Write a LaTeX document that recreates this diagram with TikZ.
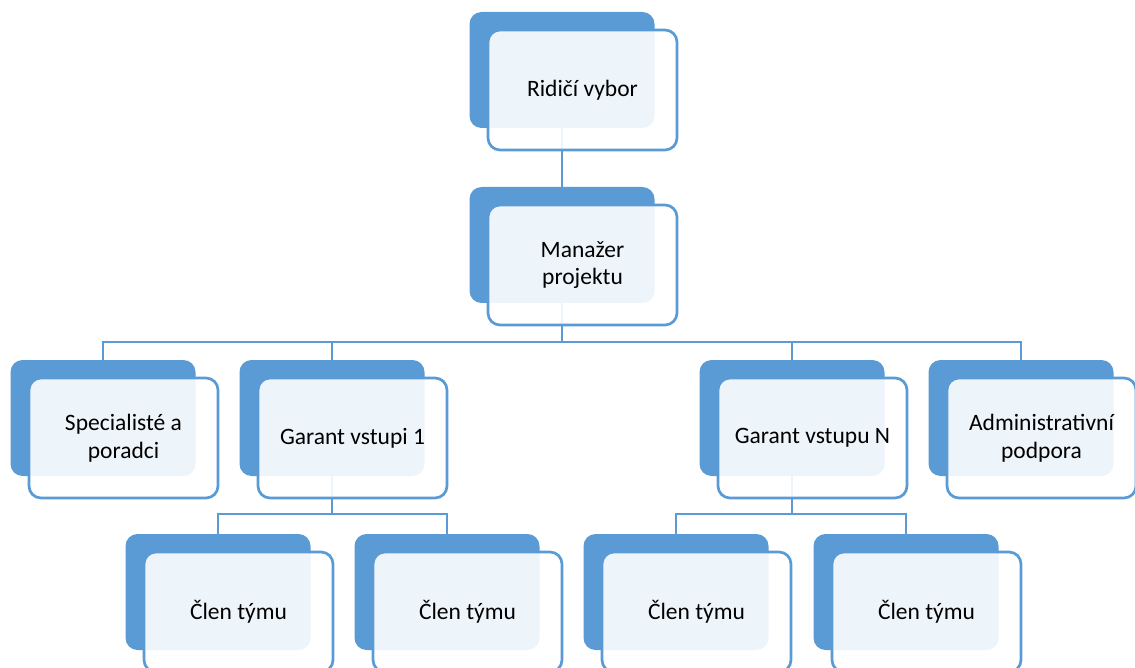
\documentclass[tikz,border=0pt]{standalone}
\usepackage{fontspec}
\setmainfont{Carlito}
\usetikzlibrary{calc}
\definecolor{sblue}{HTML}{5B9BD5}
\begin{document}
\begin{tikzpicture}[x=1pt,y=-1pt,
  darkbox/.style={draw=none,fill=sblue,rounded corners=12pt,minimum width=185pt,minimum height=116pt,inner sep=0pt},
  frontbox/.style={draw=sblue,line width=2.7pt,fill=white,fill opacity=0.9,text opacity=1,rounded corners=12pt,minimum width=189pt,minimum height=120pt,inner sep=0pt,align=center,font=\fontsize{23.5}{27.5}\selectfont},
  conn/.style={draw=sblue,line width=2.8pt}]
\useasboundingbox (0,0) rectangle (1135,668);
% dark boxes
\foreach \n/\x/\y in {top/562/70, mgr/562/245, spec/103/418, ga/332/418, gn/792/418, adm/1021/418, c1/218/592, c2/447/592, c3/676/592, c4/906/592}
  \node[darkbox] (d-\n) at (\x,\y) {};
% connectors
\coordinate (b1) at (562,342);
\coordinate (b2) at (332,514);
\coordinate (b3) at (792,514);
\draw[conn] (d-top.south) -- (d-mgr.north);
\draw[conn] (d-mgr.south) -- (b1);
\draw[conn] (b1) -| (d-spec.north);
\draw[conn] (b1) -| (d-ga.north);
\draw[conn] (b1) -| (d-gn.north);
\draw[conn] (b1) -| (d-adm.north);
\draw[conn] (d-ga.south) -- (b2);
\draw[conn] (b2) -| (d-c1.north);
\draw[conn] (b2) -| (d-c2.north);
\draw[conn] (d-gn.south) -- (b3);
\draw[conn] (b3) -| (d-c3.north);
\draw[conn] (b3) -| (d-c4.north);
% front boxes
\node[frontbox] (f-top) at ($(d-top)+(20.5,20)$) {Ridičí vybor};
\node[frontbox] (f-mgr) at ($(d-mgr)+(20.5,20)$) {Manažer\\projektu};
\node[frontbox] (f-spec) at ($(d-spec)+(20.5,20)$) {Specialisté a\\poradci};
\node[frontbox] (f-ga) at ($(d-ga)+(20.5,20)$) {Garant vstupi 1};
\node[frontbox] (f-gn) at ($(d-gn)+(20.5,20)$) {Garant vstupu N};
\node[frontbox] (f-adm) at ($(d-adm)+(20.5,20)$) {Administrativní\\podpora};
\node[frontbox] (f-c1) at ($(d-c1)+(20.5,20)$) {Člen týmu};
\node[frontbox] (f-c2) at ($(d-c2)+(20.5,20)$) {Člen týmu};
\node[frontbox] (f-c3) at ($(d-c3)+(20.5,20)$) {Člen týmu};
\node[frontbox] (f-c4) at ($(d-c4)+(20.5,20)$) {Člen týmu};
\end{tikzpicture}
\end{document}
